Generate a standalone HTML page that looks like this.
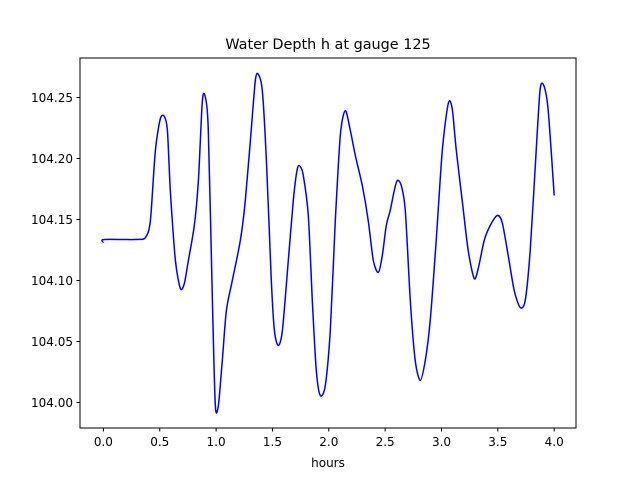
<!DOCTYPE html>
<html><head><meta charset="utf-8"><style>
body{margin:0;background:#fff;}
svg text{font-family:"DejaVu Sans","Liberation Sans",sans-serif;fill:#000;}
</style></head><body>
<svg id="chart" width="640" height="480">
<rect width="640" height="480" fill="#fff"/>
<text x="328" y="49" font-size="14.4" text-anchor="middle">Water Depth h at gauge 125</text>
<g id="xt"></g>
<g id="yt"></g>
<path id="line" fill="none" stroke="#0000ff" stroke-width="1.5" stroke-linejoin="round"/>
<rect x="80" y="58" width="496" height="370" fill="none" stroke="#000" stroke-width="1"/>
<text x="328" y="467" font-size="12" text-anchor="middle">hours</text>
</svg>
<script>
const hours=[0,0.005,0.284,0.373,0.417,0.461,0.506,0.541,0.568,0.594,0.639,0.683,0.718,0.754,0.807,0.843,0.878,0.905,0.931,0.967,0.993,1.020,1.055,1.091,1.144,1.215,1.259,1.304,1.348,1.375,1.410,1.446,1.490,1.517,1.552,1.588,1.641,1.685,1.721,1.747,1.774,1.818,1.854,1.889,1.925,1.969,2.013,2.058,2.102,2.146,2.191,2.235,2.297,2.350,2.395,2.439,2.475,2.510,2.545,2.581,2.608,2.643,2.679,2.723,2.767,2.812,2.856,2.900,2.953,3.007,3.060,3.095,3.131,3.184,3.237,3.290,3.326,3.379,3.432,3.494,3.539,3.592,3.645,3.698,3.743,3.787,3.840,3.876,3.911,3.947,4.0];
const depth=[104.1311,104.1336,104.1336,104.1352,104.1492,104.2066,104.2328,104.2344,104.2230,104.1738,104.1164,104.0934,104.0975,104.1164,104.1451,104.1820,104.2475,104.25,104.2230,104.0836,103.998,103.9975,104.0344,104.0754,104.1,104.1328,104.1656,104.2148,104.2639,104.2689,104.2557,104.1984,104.1000,104.0590,104.0467,104.0590,104.1164,104.1656,104.1918,104.1934,104.1861,104.1533,104.0836,104.0262,104.0057,104.0139,104.0590,104.1492,104.2189,104.2393,104.2230,104.2025,104.1779,104.1492,104.1164,104.1066,104.1205,104.1451,104.1574,104.1738,104.1820,104.1779,104.1574,104.0836,104.0344,104.0180,104.0344,104.0672,104.1328,104.2066,104.2451,104.2410,104.2066,104.1656,104.1246,104.1016,104.1098,104.1328,104.1451,104.1533,104.1475,104.1205,104.0918,104.0779,104.0836,104.1246,104.2066,104.2574,104.2590,104.2393,104.1697];
const xTicks=[0,0.5,1,1.5,2,2.5,3,3.5,4];
const yTicks=[104.00,104.05,104.10,104.15,104.20,104.25];
const X=h=>103.4+h*112.7;
const Y=v=>402.5-(v-104)*1220;
const ns="http://www.w3.org/2000/svg";
const xt=document.getElementById('xt'),yt=document.getElementById('yt');
xTicks.forEach(t=>{
 const l=document.createElementNS(ns,'line');
 l.setAttribute('x1',X(t));l.setAttribute('x2',X(t));l.setAttribute('y1',428);l.setAttribute('y2',431.5);l.setAttribute('stroke','#000');
 
 
 xt.appendChild(l);
 const s=document.createElementNS(ns,'text');
 s.setAttribute('x',X(t));s.setAttribute('y',446);s.setAttribute('font-size','12');s.setAttribute('text-anchor','middle');
 s.textContent=t.toFixed(1);
 
 
 xt.appendChild(s);
});
yTicks.forEach(t=>{
 const l=document.createElementNS(ns,'line');
 l.setAttribute('x1',76.5);l.setAttribute('x2',80);l.setAttribute('y1',Y(t));l.setAttribute('y2',Y(t));l.setAttribute('stroke','#000');
 
 
 yt.appendChild(l);
 const s=document.createElementNS(ns,'text');
 s.setAttribute('x',73);s.setAttribute('y',Y(t)+4.5);s.setAttribute('font-size','12');s.setAttribute('text-anchor','end');
 s.textContent=t.toFixed(2);
 
 
 yt.appendChild(s);
});
const P=hours.map((h,i)=>[X(h),Y(depth[i])]);
let d='M'+P[0][0].toFixed(1)+' '+P[0][1].toFixed(1);
for(let i=0;i<P.length-1;i++){
 const p0=P[Math.max(0,i-1)],p1=P[i],p2=P[i+1],p3=P[Math.min(P.length-1,i+2)];
 const k=1/6*0.8;
 const c1=[p1[0]+(p2[0]-p0[0])*k,p1[1]+(p2[1]-p0[1])*k];
 const c2=[p2[0]-(p3[0]-p1[0])*k,p2[1]-(p3[1]-p1[1])*k];
 d+='C'+c1[0].toFixed(1)+' '+c1[1].toFixed(1)+' '+c2[0].toFixed(1)+' '+c2[1].toFixed(1)+' '+p2[0].toFixed(1)+' '+p2[1].toFixed(1);
}
document.getElementById('line').setAttribute('d',d);
</script>
</body></html>
